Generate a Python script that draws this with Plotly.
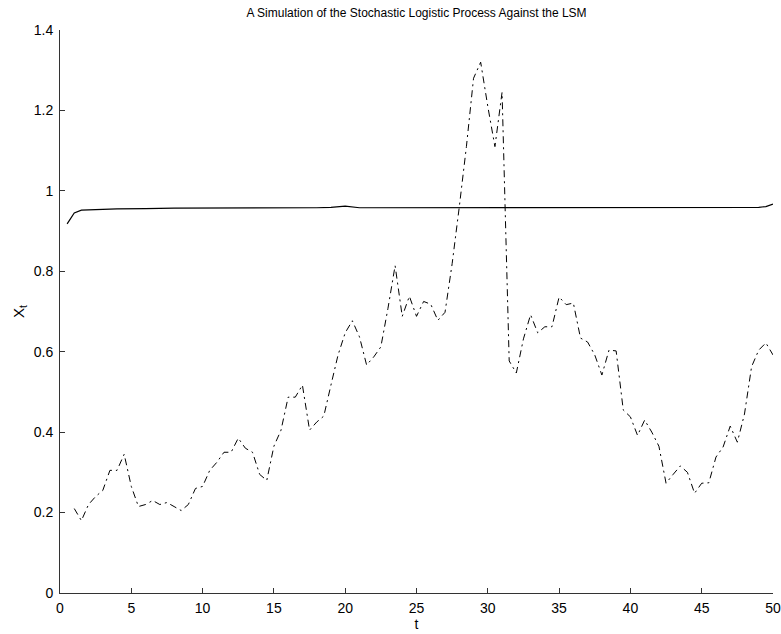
import plotly.graph_objects as go

# Simulated stochastic logistic path (dash-dot)
t_sim = [1.0, 1.5, 2.0, 2.5, 3.0, 3.5, 4.0, 4.5, 5.0, 5.5,
         6.0, 6.5, 7.0, 7.5, 8.0, 8.5, 9.0, 9.5, 10.0, 10.5,
         11.0, 11.5, 12.0, 12.5, 13.0, 13.5, 14.0, 14.5, 15.0, 15.5,
         16.0, 16.5, 17.0, 17.5, 18.0, 18.5, 19.0, 19.5, 20.0, 20.5,
         21.0, 21.5, 22.0, 22.5, 23.0, 23.5, 24.0, 24.5, 25.0, 25.5,
         26.0, 26.5, 27.0, 27.5, 28.0, 28.5, 29.0, 29.5, 30.0, 30.5,
         31.0, 31.5, 32.0, 32.5, 33.0, 33.5, 34.0, 34.5, 35.0, 35.5,
         36.0, 36.5, 37.0, 37.5, 38.0, 38.5, 39.0, 39.5, 40.0, 40.5,
         41.0, 41.5, 42.0, 42.5, 43.0, 43.5, 44.0, 44.5, 45.0, 45.5,
         46.0, 46.5, 47.0, 47.5, 48.0, 48.5, 49.0, 49.5, 50.0]
x_sim = [0.210, 0.180, 0.220, 0.240, 0.255, 0.305, 0.305, 0.345, 0.265, 0.215,
         0.220, 0.230, 0.220, 0.225, 0.215, 0.205, 0.220, 0.260, 0.265, 0.305,
         0.325, 0.350, 0.350, 0.385, 0.360, 0.350, 0.295, 0.280, 0.365, 0.405,
         0.487, 0.487, 0.517, 0.405, 0.425, 0.440, 0.517, 0.592, 0.647, 0.677,
         0.637, 0.567, 0.587, 0.612, 0.708, 0.814, 0.688, 0.738, 0.688, 0.725,
         0.718, 0.678, 0.698, 0.819, 0.960, 1.110, 1.280, 1.320, 1.210, 1.110,
         1.245, 0.577, 0.547, 0.632, 0.692, 0.647, 0.662, 0.662, 0.736, 0.717,
         0.721, 0.634, 0.624, 0.592, 0.542, 0.604, 0.602, 0.455, 0.438, 0.392,
         0.430, 0.400, 0.365, 0.273, 0.295, 0.316, 0.300, 0.248, 0.273, 0.274,
         0.338, 0.363, 0.415, 0.375, 0.445, 0.563, 0.604, 0.622, 0.592]

# Logistic steady-state curve (solid)
t_lsm = [0.5, 1.0, 1.5, 2.0, 3.0, 4.0, 5.0, 6.0, 8.0, 10.0,
         12.0, 14.0, 16.0, 18.0, 19.0, 20.0, 21.0, 23.0, 25.0, 27.0,
         29.0, 31.0, 33.0, 35.0, 37.0, 39.0, 41.0, 43.0, 45.0, 47.0,
         48.0, 49.0, 49.5, 50.0]
x_lsm = [0.918, 0.945, 0.952, 0.953, 0.954, 0.955, 0.955, 0.956, 0.957, 0.957,
         0.957, 0.958, 0.958, 0.958, 0.959, 0.962, 0.958, 0.958, 0.958, 0.959,
         0.958, 0.959, 0.959, 0.958, 0.958, 0.959, 0.958, 0.959, 0.958, 0.958,
         0.959, 0.959, 0.961, 0.967]

x_ticks = [0, 5, 10, 15, 20, 25, 30, 35, 40, 45, 50]
y_ticks = [0, 0.2, 0.4, 0.6, 0.8, 1, 1.2, 1.4]
y_tick_text = ["0", "0.2", "0.4", "0.6", "0.8", "1", "1.2", "1.4"]

font_family = "Liberation Sans, Arial, Helvetica, sans-serif"

fig = go.Figure()
fig.add_trace(go.Scatter(
    x=t_sim, y=x_sim, mode="lines",
    line=dict(color="black", width=1, dash="7px,4px,2px,4px"),
    showlegend=False,
))
fig.add_trace(go.Scatter(
    x=t_lsm, y=x_lsm, mode="lines",
    line=dict(color="black", width=1.2),
    showlegend=False,
))

axis_common = dict(
    showgrid=False, zeroline=False, automargin=False,
    showline=True, linecolor="#333", linewidth=1,
    ticks="inside", ticklen=5, tickcolor="#333", tickwidth=1,
    tickfont=dict(family=font_family, size=14, color="black"),
)

fig.update_layout(
    width=781, height=634,
    margin=dict(l=60, r=8, t=30, b=41),
    paper_bgcolor="white", plot_bgcolor="white",
    title=dict(
        text="A Simulation of the Stochastic Logistic Process Against the LSM",
        x=(60 + 773) / 2 / 781, xanchor="center",
        y=1 - 13 / 634, yanchor="middle",
        font=dict(family=font_family, size=12, color="black"),
    ),
    xaxis=dict(
        range=[0, 50], tickvals=x_ticks, ticklabelstandoff=2,
        title=dict(text="t", standoff=2,
                   font=dict(family=font_family, size=14, color="black")),
        **axis_common,
    ),
    yaxis=dict(
        range=[0, 1.4], tickvals=y_ticks, ticktext=y_tick_text,
        ticklabelstandoff=3,
        title=dict(text="X<sub>t</sub>", standoff=5,
                   font=dict(family=font_family, size=15, color="black")),
        **axis_common,
    ),
)

fig.write_html("out.html")
